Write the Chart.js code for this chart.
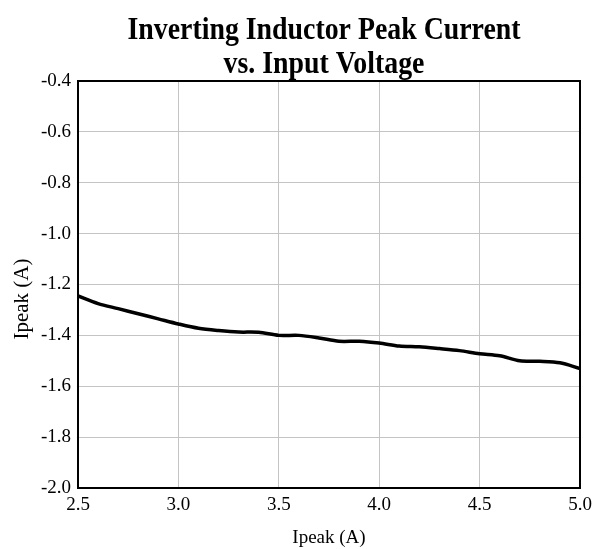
<!DOCTYPE html>
<html>
<head>
<meta charset="utf-8">
<script src="https://cdn.jsdelivr.net/npm/chart.js@4.4.0/dist/chart.umd.min.js"></script>
<style>
  html, body { margin: 0; padding: 0; background: #fff; }
  #wrap { width: 594px; height: 549px; }
</style>
</head>
<body>
<div id="wrap"><canvas id="chart" width="594" height="549"></canvas></div>
<script>
const titleLines = ["Inverting Inductor Peak Current", "vs. Input Voltage"];
const xLabel = "Ipeak (A)";
const yLabel = "Ipeak (A)";

// input voltage (V) and inductor peak current (A)
const vin = [2.5, 2.6, 2.7, 2.8, 2.9, 3.0, 3.1, 3.2, 3.3, 3.4, 3.5, 3.6, 3.7,
  3.8, 3.9, 4.0, 4.1, 4.2, 4.3, 4.4, 4.5, 4.6, 4.7, 4.8, 4.9, 5.0];
const ipeak = [-1.245, -1.275, -1.295, -1.315, -1.335, -1.355, -1.372, -1.381,
  -1.387, -1.388, -1.400, -1.400, -1.410, -1.423, -1.423, -1.430, -1.442,
  -1.445, -1.452, -1.460, -1.472, -1.480, -1.500, -1.502, -1.508, -1.530];

const SERIF = "'Liberation Serif', 'Times New Roman', serif";

/* title + y label drawn by hand (title is squeezed a bit, y label sits low) */
const titlePlugin = {
  id: "titleDraw",
  afterDraw(chart) {
    const ctx = chart.ctx;
    ctx.save();
    ctx.fillStyle = "#000";
    ctx.font = "bold 32px " + SERIF;
    ctx.textAlign = "center";
    ctx.textBaseline = "alphabetic";
    const cx = 324, sx = 0.87;
    ctx.scale(sx, 1);
    ctx.fillText(titleLines[0], cx / sx, 39);
    ctx.fillText(titleLines[1], cx / sx, 73);
    ctx.restore();

    ctx.save();
    ctx.fillStyle = "#000";
    ctx.font = "21px " + SERIF;
    ctx.textAlign = "center";
    ctx.textBaseline = "middle";
    ctx.translate(22, 299);
    ctx.rotate(-Math.PI / 2);
    ctx.fillText(yLabel, 0, 0);
    ctx.restore();
  }
};

/* black frame round the plot area */
const framePlugin = {
  id: "frame",
  afterDatasetsDraw(chart) {
    const { left, top, right, bottom } = chart.chartArea;
    const ctx = chart.ctx;
    ctx.save();
    ctx.strokeStyle = "#000";
    ctx.lineWidth = 2;
    ctx.strokeRect(left, top, right - left, bottom - top);
    ctx.restore();
  }
};

new Chart(document.getElementById("chart"), {
  type: "line",
  data: {
    datasets: [{
      data: vin.map((v, i) => ({ x: v, y: ipeak[i] })),
      borderColor: "#000",
      borderWidth: 3.5,
      pointRadius: 0,
      tension: 0.3,
      fill: false
    }]
  },
  options: {
    responsive: false,
    animation: false,
    layout: { padding: { top: 81, right: 0, left: 0, bottom: 0 } },
    plugins: { legend: { display: false }, tooltip: { enabled: false } },
    scales: {
      x: {
        type: "linear",
        min: 2.5, max: 5.0,
        afterFit: (s) => { s.height = 61; s.paddingRight = 14; },
        ticks: {
          stepSize: 0.5,
          color: "#000",
          padding: 6,
          font: { family: SERIF, size: 19 },
          callback: (v) => v.toFixed(1)
        },
        grid: { color: "#c4c4c4", lineWidth: 1, drawTicks: false },
        border: { display: false },
        title: {
          display: true, text: xLabel, color: "#000",
          font: { family: SERIF, size: 19 }, padding: { top: 0, bottom: 0 }
        }
      },
      y: {
        min: -2.0, max: -0.4,
        afterFit: (s) => { s.width = 78; },
        ticks: {
          stepSize: 0.2,
          color: "#000",
          padding: 7,
          font: { family: SERIF, size: 19 },
          callback: (v) => v.toFixed(1)
        },
        grid: { color: "#c4c4c4", lineWidth: 1, drawTicks: false },
        border: { display: false }
      }
    }
  },
  plugins: [titlePlugin, framePlugin]
});
</script>
</body>
</html>
